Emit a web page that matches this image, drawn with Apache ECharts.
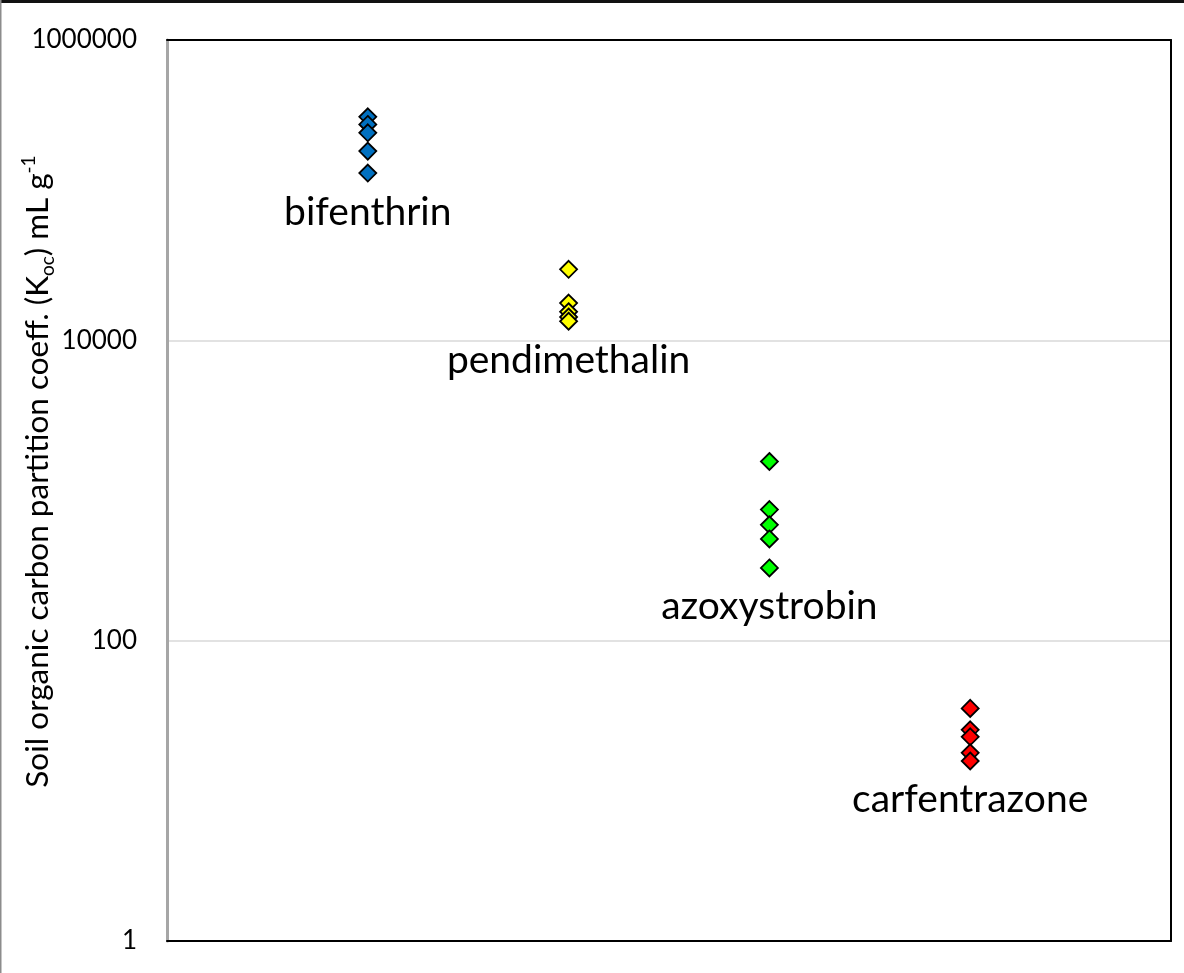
<!DOCTYPE html>
<html>
<head>
<meta charset="utf-8">
<script src="https://cdn.jsdelivr.net/npm/echarts@6/dist/echarts.min.js"></script>
<style>
  html, body { margin: 0; padding: 0; background: #fff; }
  #chart { width: 1184px; height: 973px; }
</style>
</head>
<body>
<div id="chart"></div>
<script>
// Koc values (mL g-1) measured for each pesticide
const compounds = ['bifenthrin', 'pendimethalin', 'azoxystrobin', 'carfentrazone'];
const bifenthrin = [308000, 274000, 241000, 182000, 130000];
const pendimethalin = [29700, 17700, 15500, 14300, 13400];
const azoxystrobin = [1560, 747, 591, 476, 305];
const carfentrazone = [35.4, 25.5, 22.9, 17.9, 15.8];
const colors = ['#0070C0', '#FFFF00', '#00FF00', '#FF0000'];
const yTicks = [1, 100, 10000, 1000000];

const groups = [bifenthrin, pendimethalin, azoxystrobin, carfentrazone];
const fontFamily = 'Lato, "Open Sans", sans-serif';

// one scatter series per compound; the name sits under the lowest point
const series = groups.map((vals, i) => {
  const lowest = Math.min(...vals);
  return {
    type: 'scatter',
    name: compounds[i],
    symbol: 'diamond',
    symbolSize: 17,
    itemStyle: { color: colors[i], borderColor: '#000', borderWidth: 1.8, opacity: 1 },
    emphasis: { disabled: true },
    z: 3,
    data: vals.map(v => {
      const item = { value: [i + 1, v] };
      if (v === lowest) {
        item.label = {
          show: true,
          position: 'bottom',
          distance: 10,
          formatter: compounds[i],
          color: '#000',
          fontFamily: fontFamily,
          fontSize: 39
        };
      }
      return item;
    })
  };
});

// plain black line used for the bottom, top and right edges of the plot
function frameAxis(extra) {
  return Object.assign({
    show: true,
    axisLine: { show: true, onZero: false, lineStyle: { color: '#000000', width: 2, opacity: 1 } },
    axisTick: { show: false },
    axisLabel: { show: false },
    splitLine: { show: false },
    z: 6
  }, extra);
}

const chart = echarts.init(document.getElementById('chart'), null, { renderer: 'canvas' });
chart.setOption({
  animation: false,
  backgroundColor: '#fff',
  grid: {
    left: 167, right: 13, top: 40, bottom: 32,
    outerBoundsMode: 'none', containLabel: false
  },
  xAxis: [
    frameAxis({ type: 'value', min: 0, max: 5, position: 'bottom' }),
    frameAxis({ type: 'value', min: 0, max: 5, position: 'top' })
  ],
  yAxis: [
    {
      type: 'log', logBase: 100, min: yTicks[0], max: yTicks[yTicks.length - 1],
      position: 'left',
      axisLine: { show: true, onZero: false, lineStyle: { color: '#a6a6a6', width: 3 } },
      axisTick: { show: false },
      axisLabel: {
        margin: 30, color: '#000', fontFamily: fontFamily, fontSize: 26,
        formatter: v => String(Math.round(v))
      },
      splitLine: { show: true, lineStyle: { color: '#d9d9d9', width: 1.5 } },
      name: '{t|Soil organic carbon partition coeff. (K}{sub|oc}{t|) mL g}{sup|-1}',
      nameLocation: 'middle',
      nameGap: 110,
      nameMoveOverlap: false,
      nameRotate: 90,
      nameTextStyle: {
        padding: [0, 0, 0, 38],
        rich: {
          t: { fontFamily: fontFamily, fontSize: 31.5, color: '#000', lineHeight: 38, verticalAlign: 'middle' },
          sub: { fontFamily: fontFamily, fontSize: 19, color: '#000', lineHeight: 38, verticalAlign: 'bottom' },
          sup: { fontFamily: fontFamily, fontSize: 19, color: '#000', lineHeight: 38, verticalAlign: 'top' }
        }
      },
      z: 5
    },
    frameAxis({ type: 'log', logBase: 100, min: yTicks[0], max: yTicks[yTicks.length - 1], position: 'right' })
  ],
  graphic: [
    { type: 'rect', left: 0, top: 0, shape: { width: 1184, height: 3 }, style: { fill: '#111' }, silent: true },
    { type: 'rect', left: 0, top: 0, shape: { width: 1.5, height: 973 }, style: { fill: '#8c8c8c' }, silent: true }
  ],
  series: series
});
</script>
</body>
</html>
